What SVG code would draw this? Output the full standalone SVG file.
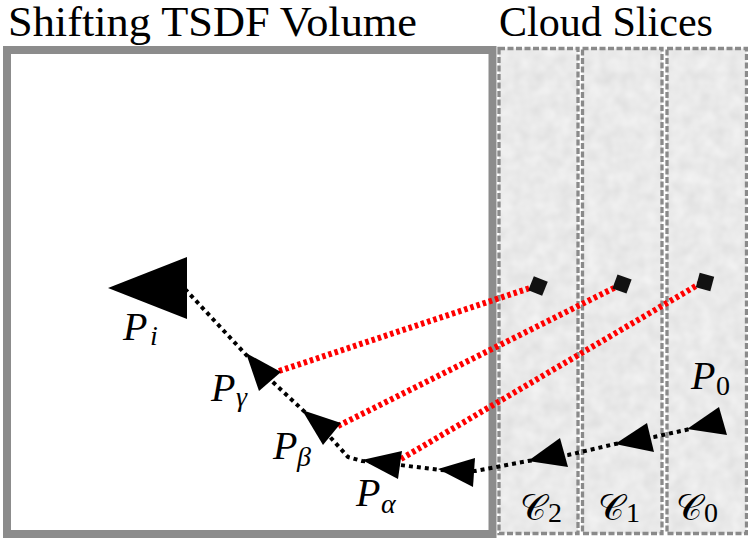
<svg xmlns="http://www.w3.org/2000/svg" width="748" height="538" viewBox="0 0 748 538">
<style>
.title{font-size:42px}
.m{font-style:italic;font-size:40px}
.s{font-style:italic;font-size:28px}
.d{font-size:28px}
.cal{font-size:36px}
.slice{stroke:#8a8a8a;stroke-width:3.3;stroke-dasharray:6 2.5;fill:none}
.tri{fill:#000}
.pt{fill:#111}
.path{fill:none;stroke:#000;stroke-width:4;stroke-dasharray:4 4}
.red{fill:none;stroke:#ff0000;stroke-width:6;stroke-dasharray:3.5 3}
</style>
<defs>
<filter id="noise" x="0" y="0" width="100%" height="100%">
<feTurbulence type="fractalNoise" baseFrequency="0.07" numOctaves="2" seed="4"/>
<feColorMatrix type="matrix" values="0 0 0 0 1  0 0 0 0 1  0 0 0 0 1  0.7 0 0 0 0"/>
</filter>
</defs>
<rect width="748" height="538" fill="#fff"/>
<g id="titles" font-family="Liberation Serif, serif" fill="#000">
<text class="title" x="8" y="36" textLength="409" lengthAdjust="spacingAndGlyphs">Shifting TSDF Volume</text>
<text class="title" x="499" y="36" textLength="214" lengthAdjust="spacingAndGlyphs">Cloud Slices</text>
</g>
<g id="volume">
<rect x="7" y="50" width="485.5" height="484" fill="#fff" stroke="#8c8c8c" stroke-width="8"/>
</g>
<g id="slices">
<g id="slice-c2">
<rect x="499" y="48.5" width="79" height="485" fill="#dedede"/>
<rect x="499" y="48.5" width="79" height="485" filter="url(#noise)"/>
<rect class="slice" x="499" y="48.5" width="79" height="485"/>
</g>
<g id="slice-c1">
<rect x="582.5" y="48.5" width="79.5" height="485" fill="#dedede"/>
<rect x="582.5" y="48.5" width="79.5" height="485" filter="url(#noise)"/>
<rect class="slice" x="582.5" y="48.5" width="79.5" height="485"/>
</g>
<g id="slice-c0">
<rect x="667" y="48.5" width="79.5" height="485" fill="#dedede"/>
<rect x="667" y="48.5" width="79.5" height="485" filter="url(#noise)"/>
<rect class="slice" x="667" y="48.5" width="79.5" height="485"/>
</g>
</g>
<g id="connectors">
<polyline class="path" points="185,289 262,372 322,428 348,457 362,461 400,465 440,470 475,471 528,461 568,455 615,444 654,437 690,429"/>
<line class="red" x1="279" y1="371" x2="533" y2="287"/>
<line class="red" x1="338" y1="426" x2="618" y2="286"/>
<line class="red" x1="401" y1="459" x2="701" y2="283"/>
</g>
<g id="points">
<rect class="pt" x="-7.5" y="-7.5" width="15" height="15" transform="translate(538,286) rotate(22)"/>
<rect class="pt" x="-7.5" y="-7.5" width="15" height="15" transform="translate(622,284) rotate(20)"/>
<rect class="pt" x="-7.5" y="-7.5" width="15" height="15" transform="translate(705,282) rotate(15)"/>
</g>
<g font-family="Liberation Serif, serif" fill="#000">
<g id="node-Pi"><polygon class="tri" points="108,288 187,257 187,319"/>
<text class="m" x="123" y="340">P</text><text class="s" x="150" y="345">i</text></g>
<g id="node-Pgamma"><polygon class="tri" points="246,353 281,372 259,391"/>
<text class="m" x="211" y="401">P</text><text class="s" x="236" y="406">γ</text></g>
<g id="node-Pbeta"><polygon class="tri" points="302,410 341,423 323,445"/>
<text class="m" x="273" y="459">P</text><text class="s" x="297" y="466">β</text></g>
<g id="node-Palpha"><polygon class="tri" points="362,460 402,451 398,479"/>
<text class="m" x="356" y="506">P</text><text class="s" x="381" y="513">α</text></g>
<g id="node-p4"><polygon class="tri" points="438,469 475,458 473,487"/></g>
<g id="node-p5"><polygon class="tri" points="528,461 560,438 568,467"/></g>
<g id="node-p6"><polygon class="tri" points="615,444 647,423 654,452"/></g>
<g id="node-P0"><polygon class="tri" points="687,429 719,407 727,435"/>
<text class="m" x="691" y="389">P</text><text class="d" x="716" y="395">0</text></g>
<g id="labels-c">
<text class="cal" x="520" y="520" font-family="DejaVu Serif, serif">𝒞</text><text class="d" x="548" y="522">2</text>
<text class="cal" x="598" y="520" font-family="DejaVu Serif, serif">𝒞</text><text class="d" x="626" y="522">1</text>
<text class="cal" x="676" y="520" font-family="DejaVu Serif, serif">𝒞</text><text class="d" x="704" y="522">0</text>
</g>
</g>
</svg>
